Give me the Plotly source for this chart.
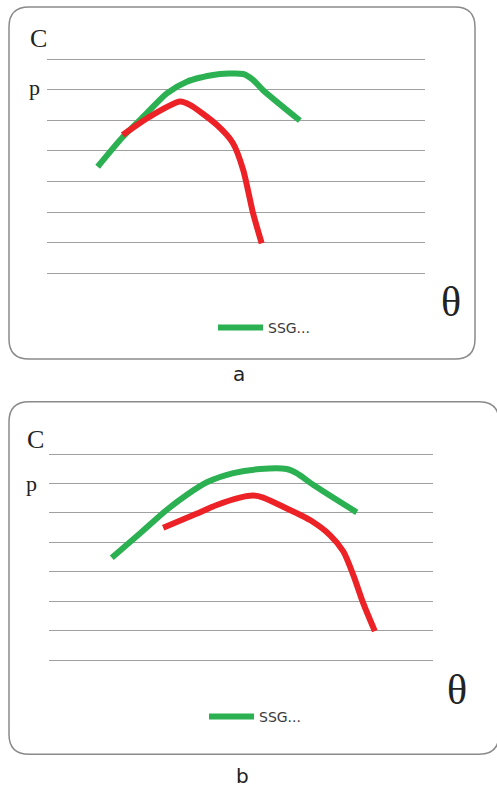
import plotly.graph_objects as go

W, H = 497, 787

# ---------------- data ----------------
green_a_x = [13.4, 20.1, 26.4, 31.7, 37.0, 43.9, 51.9, 54.5, 57.1, 66.9]
green_a_y = [3.48, 4.46, 5.23, 5.88, 6.26, 6.48, 6.51, 6.32, 5.99, 4.99]
red_a_x = [20.0, 27.2, 35.2, 37.8, 44.9, 49.2, 51.9, 54.5, 56.8]
red_a_y = [4.52, 5.12, 5.61, 5.50, 4.85, 4.25, 3.38, 1.97, 0.98]

green_b_x = [16.3, 23.7, 30.6, 35.8, 41.1, 48.0, 55.0, 61.9, 64.5, 68.9, 80.2]
green_b_y = [3.48, 4.31, 5.10, 5.61, 6.04, 6.35, 6.49, 6.49, 6.35, 5.95, 5.02]
red_b_x = [29.7, 37.6, 43.7, 49.7, 53.2, 55.8, 61.0, 68.0, 73.2, 76.7, 79.3, 81.9, 84.9]
red_b_y = [4.50, 4.93, 5.27, 5.52, 5.59, 5.52, 5.21, 4.76, 4.25, 3.69, 2.89, 1.93, 0.99]

series_name = "SSG..."
panel_labels = ["a", "b"]

GREEN = "#2bb052"
RED = "#ec2227"
GRID = "#a0a0a0"


def px(x):
    return x / W


def py(y):
    return 1 - y / H


def rounded_rect(x0, y0, x1, y1, r):
    rx = r
    pts = [
        f"M {px(x0 + rx)} {py(y0)}",
        f"L {px(x1 - rx)} {py(y0)}",
        f"Q {px(x1)} {py(y0)} {px(x1)} {py(y0 + rx)}",
        f"L {px(x1)} {py(y1 - rx)}",
        f"Q {px(x1)} {py(y1)} {px(x1 - rx)} {py(y1)}",
        f"L {px(x0 + rx)} {py(y1)}",
        f"Q {px(x0)} {py(y1)} {px(x0)} {py(y1 - rx)}",
        f"L {px(x0)} {py(y0 + rx)}",
        f"Q {px(x0)} {py(y0)} {px(x0 + rx)} {py(y0)}",
        "Z",
    ]
    return " ".join(pts)


fig = go.Figure()

line_kw = dict(width=6, shape="spline", smoothing=0.7)

fig.add_trace(go.Scatter(x=green_a_x, y=green_a_y, mode="lines", name=series_name,
                         line=dict(color=GREEN, **line_kw), xaxis="x", yaxis="y",
                         legend="legend"))
fig.add_trace(go.Scatter(x=red_a_x, y=red_a_y, mode="lines", name="red",
                         line=dict(color=RED, **line_kw), xaxis="x", yaxis="y",
                         showlegend=False))
fig.add_trace(go.Scatter(x=green_b_x, y=green_b_y, mode="lines", name=series_name,
                         line=dict(color=GREEN, **line_kw), xaxis="x2", yaxis="y2",
                         legend="legend2"))
fig.add_trace(go.Scatter(x=red_b_x, y=red_b_y, mode="lines", name="red",
                         line=dict(color=RED, **line_kw), xaxis="x2", yaxis="y2",
                         showlegend=False))

axis_common_x = dict(range=[0, 100], showgrid=False, zeroline=False, showticklabels=False,
                     showline=False, ticks="")
axis_common_y = dict(range=[-0.5, 7.5], dtick=1, tick0=0, showgrid=True, gridcolor=GRID,
                     gridwidth=1, zeroline=False, showticklabels=False, showline=False, ticks="")

ya_top, ya_bot = 59.0, 273.3
sa = (ya_bot - ya_top) / 7
yb_top, yb_bot = 454.0, 660.3
sb = (yb_bot - yb_top) / 7

legend_font = dict(family="DejaVu Sans", size=14, color="#3a3a3a")

fig.update_layout(
    width=W, height=H,
    margin=dict(l=0, r=0, t=0, b=0),
    paper_bgcolor="white", plot_bgcolor="rgba(0,0,0,0)",
    xaxis=dict(domain=[px(47), px(425)], anchor="y", **axis_common_x),
    yaxis=dict(domain=[py(ya_bot + 0.5 * sa), py(ya_top - 0.5 * sa)], anchor="x", **axis_common_y),
    xaxis2=dict(domain=[px(49.3), px(432.7)], anchor="y2", **axis_common_x),
    yaxis2=dict(domain=[py(yb_bot + 0.5 * sb), py(yb_top - 0.5 * sb)], anchor="x2", **axis_common_y),
    legend=dict(x=px(213), y=py(328), xanchor="left", yanchor="middle", itemwidth=45,
                bgcolor="rgba(0,0,0,0)", font=legend_font),
    legend2=dict(x=px(204), y=py(717), xanchor="left", yanchor="middle", itemwidth=45,
                 bgcolor="rgba(0,0,0,0)", font=legend_font),
    showlegend=True,
)

fig.add_shape(type="path", xref="paper", yref="paper", path=rounded_rect(9, 7, 475, 359, 20),
              line=dict(color="#8a8a8a", width=1.5), layer="below")
fig.add_shape(type="path", xref="paper", yref="paper", path=rounded_rect(9, 401.7, 499, 754.3, 20),
              line=dict(color="#8a8a8a", width=1.5), layer="below")

serif = "Liberation Serif"


def ann(text, x, y, size, family, color="#222222"):
    fig.add_annotation(text=text, x=px(x), y=py(y), xref="paper", yref="paper",
                       xanchor="center", yanchor="middle", showarrow=False,
                       font=dict(family=family, size=size, color=color))


ann("C", 38.5, 38.5, 26, serif)
ann("p", 34, 87, 22, serif)
ann("θ", 451, 302, 42, serif)
ann(panel_labels[0], 239, 374, 20, "DejaVu Sans")

ann("C", 35, 439, 26, serif)
ann("p", 31.5, 483, 22, serif)
ann("θ", 457, 690, 42, serif)
ann(panel_labels[1], 242, 776, 20, "DejaVu Sans")

fig.write_html("out.html", config={"displayModeBar": False},
               post_script="document.body.style.margin='0';")
